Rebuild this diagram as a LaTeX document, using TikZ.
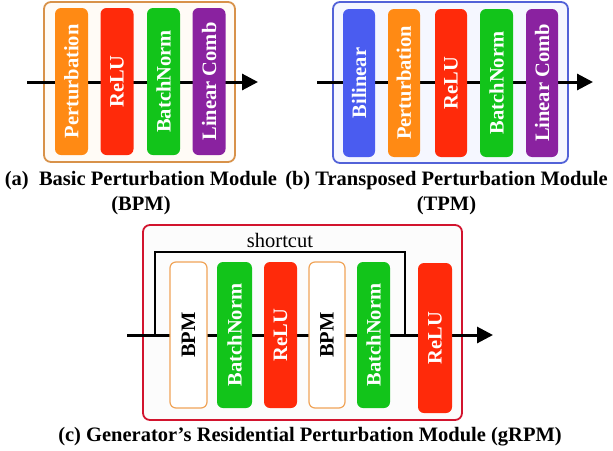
\documentclass[tikz,border=0pt]{standalone}
\usepackage{fontspec}
\setmainfont{Liberation Serif}
\usetikzlibrary{arrows.meta}

\definecolor{cOrange}{HTML}{FF8A14}
\definecolor{cRed}{HTML}{FF2A0A}
\definecolor{cGreen}{HTML}{12C41A}
\definecolor{cPurple}{HTML}{8A22A0}
\definecolor{cBlue}{HTML}{4A5CF0}
\definecolor{frameA}{HTML}{D8924A}
\definecolor{fillA}{HTML}{FFFBF6}
\definecolor{frameB}{HTML}{5262D8}
\definecolor{fillB}{HTML}{F5F7FF}
\definecolor{frameC}{HTML}{D2142E}
\definecolor{fillC}{HTML}{FCFCFC}
\definecolor{bpmEdge}{HTML}{F0A458}

\tikzset{
  panel/.style={draw, line width=1.8pt, rounded corners=7pt},
  layer/.style={rectangle, rounded corners=6pt, rotate=90, inner sep=0pt,
    text=white, font=\fontsize{20.5}{24}\selectfont\bfseries},
  bpmbox/.style={layer, draw=bpmEdge, fill=white, line width=1.2pt, text=black},
  flow/.style={line width=3pt, -{Triangle[length=16pt,width=16pt]}},
  skip/.style={line width=2.6pt},
  caption/.style={align=center, anchor=north, inner sep=0pt,
    font=\fontsize{20.5}{25}\selectfont\bfseries},
}

\begin{document}
\begin{tikzpicture}[x=1pt,y=-1pt]
\useasboundingbox (0,0) rectangle (613,450);

% ---------- (a) Basic Perturbation Module ----------
\node[panel, draw=frameA, fill=fillA, minimum width=191, minimum height=160]
  (boxA) at (139.5,82) {};
\coordinate (aIn) at (27,82);
\coordinate (aOut) at (258,82);
\draw[flow] (aIn) -- (aOut);
\node[layer, fill=cOrange, minimum width=147, minimum height=33] (aPert) at (71.5,81.5) {Perturbation};
\node[layer, fill=cRed,    minimum width=147, minimum height=33] (aRelu) at (117,81.5) {ReLU};
\node[layer, fill=cGreen,  minimum width=147, minimum height=33] (aBn)   at (163.5,81.5) {BatchNorm};
\node[layer, fill=cPurple, minimum width=147, minimum height=33] (aLin)  at (209,81.5) {Linear Comb};
\node[caption] (capA) at (141,171) {(a)\ \ Basic Perturbation Module\\(BPM)};

% ---------- (b) Transposed Perturbation Module ----------
\node[panel, draw=frameB, fill=fillB, minimum width=235, minimum height=161]
  (boxB) at (450.5,82.5) {};
\coordinate (bIn) at (317,82);
\coordinate (bOut) at (593,82);
\draw[flow] (bIn) -- (bOut);
\node[layer, fill=cBlue,   minimum width=148, minimum height=32] (bBil)  at (359,83) {Bilinear};
\node[layer, fill=cOrange, minimum width=148, minimum height=32] (bPert) at (404,83) {Perturbation};
\node[layer, fill=cRed,    minimum width=148, minimum height=32] (bRelu) at (451,83) {ReLU};
\node[layer, fill=cGreen,  minimum width=148, minimum height=33] (bBn)   at (496.5,83) {BatchNorm};
\node[layer, fill=cPurple, minimum width=148, minimum height=32] (bLin)  at (542,83) {Linear Comb};
\node[caption] (capB) at (446.5,171) {(b) Transposed Perturbation Module\\(TPM)};

% ---------- (c) Generator's Residential Perturbation Module ----------
\node[panel, draw=frameC, fill=fillC, minimum width=319, minimum height=195]
  (boxC) at (302.5,322.5) {};
\coordinate (cIn) at (127,335);
\coordinate (cOut) at (493,335);
\coordinate (skipFrom) at (155,335);
\coordinate (skipTo) at (405,335);
\coordinate (skipTop) at (280,252);
\draw[flow] (cIn) -- (cOut);
\draw[skip] (skipFrom) |- (skipTop) -| (skipTo);
\node[font=\fontsize{20.5}{24}\selectfont, anchor=base] (skipLabel) at (280,247) {shortcut};
\node[bpmbox, minimum width=146, minimum height=37] (cBpm1) at (188.5,335) {BPM};
\node[layer, fill=cGreen, minimum width=146, minimum height=35] (cBn1)  at (234.5,335) {BatchNorm};
\node[layer, fill=cRed,   minimum width=146, minimum height=33] (cRelu1) at (280.5,335) {ReLU};
\node[bpmbox, minimum width=146, minimum height=36] (cBpm2) at (327,335) {BPM};
\node[layer, fill=cGreen, minimum width=146, minimum height=33] (cBn2)  at (373.5,335) {BatchNorm};
\node[layer, fill=cRed,   minimum width=150, minimum height=34] (cRelu2) at (435,338) {ReLU};
\node[caption] (capC) at (310,427) {(c) Generator’s Residential Perturbation Module (gRPM)};
\end{tikzpicture}
\end{document}
